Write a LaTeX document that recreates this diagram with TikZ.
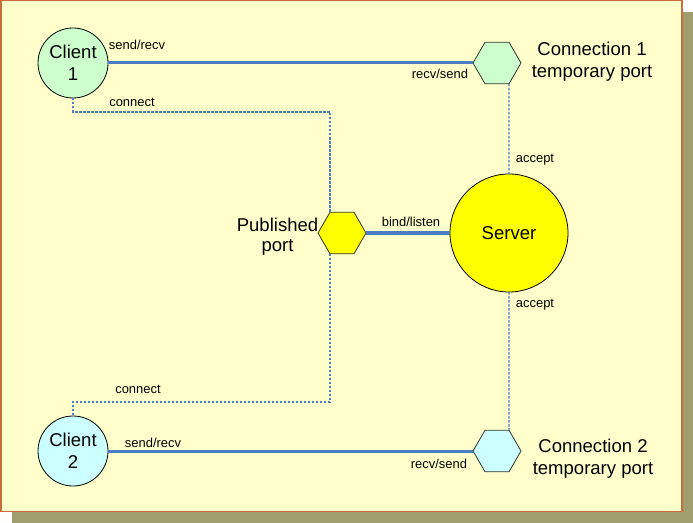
\documentclass[tikz,border=0pt]{standalone}
\usepackage{fontspec}
\setmainfont{Liberation Sans}
\usetikzlibrary{shapes.geometric}
\definecolor{panelfill}{RGB}{255,255,204}
\definecolor{panelborder}{RGB}{200,110,60}
\definecolor{shadowgray}{RGB}{160,158,110}
\definecolor{linkblue}{RGB}{74,124,200}
\definecolor{palegreen}{RGB}{204,255,204}
\definecolor{palecyan}{RGB}{204,255,255}
\definecolor{portyellow}{RGB}{255,255,0}

\begin{document}
\begin{tikzpicture}[x=1bp,y=-1bp,
  host node/.style={circle,draw=black,line width=0.8bp,inner sep=0pt,outer sep=0pt,align=center,font=\fontsize{18.6}{22}\selectfont},
  port node/.style={regular polygon,regular polygon sides=6,draw=black!80,line width=0.8bp,minimum size=48bp,inner sep=0pt,outer sep=0pt},
  big label/.style={align=center,font=\fontsize{18.6}{22}\selectfont},
  small label/.style={anchor=base,inner sep=0pt,font=\fontsize{13}{15}\selectfont},
  link/.style={draw=linkblue,line width=3bp},
  dash link/.style={draw=linkblue,line width=1.3bp,dash pattern=on 2.5bp off 1.5bp}]

  \useasboundingbox (0,0) rectangle (693,523);
  \fill[shadowgray] (12,12) rectangle (693,523);
  \filldraw[fill=panelfill,draw=panelborder,line width=1.5bp] (0.75,0.75) rectangle (682,511.5);

  \node[host node,fill=palegreen,minimum size=70bp] (client1) at (73,63) {Client\\1};
  \node[host node,fill=palecyan,minimum size=70bp] (client2) at (73,451) {Client\\2};
  \node[host node,fill=portyellow,minimum size=118bp] (server) at (509,233) {Server};
  \node[port node,fill=palegreen] (conn1) at (497,63) {};
  \node[port node,fill=palecyan] (conn2) at (497,451) {};
  \node[port node,fill=portyellow] (pub) at (342,233) {};

  \node[big label] (conn1 label) at (592,62) {Connection 1\\temporary port};
  \node[big label] (conn2 label) at (593,459) {Connection 2\\temporary port};
  \node[big label,font=\fontsize{18.6}{20}\selectfont] (pub label) at (277.5,237) {Published\\port};

  \coordinate (knee1) at (73,112);
  \coordinate (knee2) at (73,402);

  \path[link]
    (client1) edge (conn1)
    (client2) edge (conn2)
    (pub) edge[line width=3.5bp] (server);

  \draw[dash link] (client1.south) -- (knee1) -| (pub.120);
  \draw[dash link] (pub.240) |- (knee2) -- (client2.north);
  \draw[dash link] (conn1.300) -- (server.north);
  \draw[dash link] (server.south) -- (conn2.60);

  \node[small label] (send1) at (137,50) {send/recv};
  \node[small label] (recv1) at (440,79) {recv/send};
  \node[small label] (connect1) at (132,107) {connect};
  \node[small label] (accept1) at (535,163) {accept};
  \node[small label] (bind) at (411,227) {bind/listen};
  \node[small label] (accept2) at (535,307) {accept};
  \node[small label] (connect2) at (138,393) {connect};
  \node[small label] (send2) at (153,447) {send/recv};
  \node[small label] (recv2) at (439,468) {recv/send};
\end{tikzpicture}
\end{document}
